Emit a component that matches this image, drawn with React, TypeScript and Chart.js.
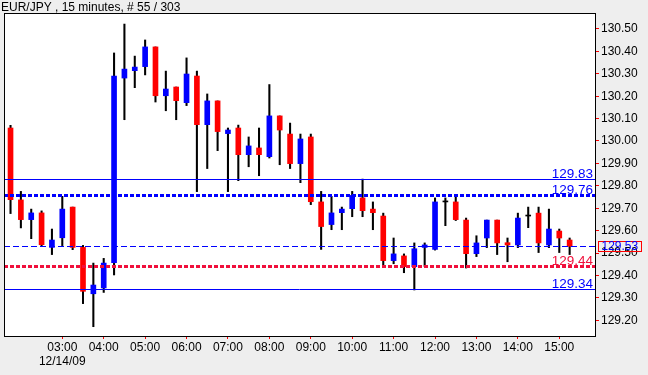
import React, { useEffect, useRef } from 'react';
import { Chart, registerables } from 'chart.js';

Chart.register(...registerables);

const TITLE = 'EUR/JPY , 15 minutes, # 55 / 303';

const opens = [
  130.058, 129.737, 129.649, 129.679, 129.525, 129.568, 129.705, 129.525, 129.318, 129.344,
  129.457, 130.281, 130.314, 130.332, 130.420, 130.202, 130.241, 130.171, 130.290, 130.073,
  130.179, 130.033, 130.058, 129.939, 129.969, 129.930, 130.112, 130.031, 129.899, 130.018,
  129.728, 129.627, 129.680, 129.698, 129.746, 129.696, 129.665, 129.466, 129.487, 129.439,
  129.525, 129.516, 129.728, 129.728, 129.647, 129.497, 129.567, 129.647, 129.546, 129.536,
  129.665, 129.678, 129.536, 129.598, 129.558,
];
const highs = [
  130.070, 129.775, 129.696, 129.688, 129.607, 129.753, 129.705, 129.534, 129.455, 129.476,
  130.393, 130.522, 130.379, 130.451, 130.420, 130.312, 130.241, 130.371, 130.312, 130.210,
  130.179, 130.058, 130.071, 130.018, 130.058, 130.252, 130.112, 130.080, 130.031, 130.031,
  129.775, 129.753, 129.705, 129.775, 129.830, 129.728, 129.678, 129.567, 129.496, 129.545,
  129.545, 129.746, 129.746, 129.753, 129.656, 129.577, 129.647, 129.647, 129.567, 129.678,
  129.705, 129.705, 129.696, 129.607, 129.567,
];
const lows = [
  129.676, 129.612, 129.564, 129.530, 129.493, 129.533, 129.515, 129.274, 129.171, 129.324,
  129.402, 130.095, 130.238, 130.295, 130.174, 130.135, 130.095, 130.158, 129.774, 129.877,
  129.957, 129.774, 129.823, 129.885, 129.845, 129.924, 129.894, 129.877, 129.814, 129.716,
  129.516, 129.604, 129.604, 129.662, 129.662, 129.604, 129.440, 129.452, 129.412, 129.335,
  129.440, 129.513, 129.622, 129.645, 129.433, 129.484, 129.524, 129.493, 129.461, 129.524,
  129.613, 129.502, 129.524, 129.502, 129.493,
];
const closes = [
  129.738, 129.649, 129.679, 129.537, 129.558, 129.696, 129.525, 129.329, 129.357, 129.455,
  130.290, 130.321, 130.330, 130.420, 130.202, 130.232, 130.180, 130.299, 130.073, 130.179,
  130.042, 130.049, 129.939, 129.978, 129.939, 130.112, 130.049, 129.899, 130.009, 129.729,
  129.618, 129.679, 129.696, 129.757, 129.689, 129.680, 129.466, 129.496, 129.439, 129.519,
  129.536, 129.728, 129.728, 129.649, 129.497, 129.545, 129.647, 129.545, 129.536, 129.656,
  129.665, 129.545, 129.607, 129.567, 129.530,
];

const xTickIndex = [5, 9, 13, 17, 21, 25, 29, 33, 37, 41, 45, 49, 53];
const xTickLabels = ['03:00', '04:00', '05:00', '06:00', '07:00', '08:00', '09:00', '10:00', '11:00', '12:00', '13:00', '14:00', '15:00'];
const dateLabel = '12/14/09';
const yTicks = [129.2, 129.3, 129.4, 129.5, 129.6, 129.7, 129.8, 129.9, 130.0, 130.1, 130.2, 130.3, 130.4, 130.5];

const levelValues = [129.83, 129.76, 129.53, 129.44, 129.34];
const levelKinds = ['solid', 'dotted', 'dashed', 'dotted', 'solid'];
const levelColors = ['#0000ff', '#0000ff', '#0000ff', '#f0103c', '#0000ff'];
const levelLabelShown = [true, true, false, true, true];

const X_MIN = -0.63;
const X_MAX = 56.45;
const Y_MIN = 129.1295;
const Y_MAX = 130.5714;

const FONT = "'Liberation Sans', Arial, sans-serif";

const framePlugin = {
  id: 'frame',
  beforeDraw(chart: any) {
    const { ctx, chartArea: a } = chart;
    ctx.save();
    ctx.fillStyle = '#eeeeee';
    ctx.fillRect(0, 0, chart.width, chart.height);
    ctx.fillStyle = '#ffffff';
    ctx.fillRect(a.left, a.top, a.right - a.left, a.bottom - a.top);
    ctx.restore();
  },
  afterDatasetsDraw(chart: any) {
    const { ctx, chartArea: a } = chart;
    const ys = chart.scales.y;
    ctx.save();
    ctx.beginPath();
    ctx.rect(a.left, a.top, a.right - a.left, a.bottom - a.top);
    ctx.clip();
    levelValues.forEach((v, i) => {
      const py = Math.round(ys.getPixelForValue(v)) + 0.5;
      const kind = levelKinds[i];
      ctx.strokeStyle = levelColors[i];
      ctx.lineWidth = kind === 'dotted' ? 3 : 1;
      ctx.setLineDash(kind === 'dotted' ? [4, 2] : kind === 'dashed' ? [6, 3] : []);
      ctx.beginPath();
      ctx.moveTo(a.left, py);
      ctx.lineTo(a.right, py);
      ctx.stroke();
    });
    ctx.restore();
  },
  afterDraw(chart: any) {
    const { ctx, chartArea: a } = chart;
    const ys = chart.scales.y;
    ctx.save();
    ctx.strokeStyle = '#000000';
    ctx.lineWidth = 1;
    ctx.strokeRect(Math.round(a.left) + 0.5, Math.round(a.top) + 0.5, Math.round(a.right - a.left), Math.round(a.bottom - a.top));
    ctx.fillStyle = '#000000';
    ctx.font = `12px ${FONT}`;
    ctx.textAlign = 'left';
    ctx.textBaseline = 'alphabetic';
    ctx.fillText(TITLE, 1, 11);
    ctx.font = `13.5px ${FONT}`;
    ctx.textAlign = 'right';
    levelValues.forEach((v, i) => {
      if (!levelLabelShown[i]) return;
      const py = Math.round(ys.getPixelForValue(v));
      ctx.fillStyle = levelColors[i];
      ctx.fillText(v.toFixed(2), a.right - 2, py - 1);
    });
    const last = closes[closes.length - 1];
    const py = Math.round(ys.getPixelForValue(last));
    ctx.strokeStyle = '#ff0000';
    ctx.strokeRect(Math.round(a.right) + 3.5, py - 4.5, 43, 10);
    ctx.fillStyle = '#0000ff';
    ctx.font = `12px ${FONT}`;
    ctx.textAlign = 'left';
    ctx.textBaseline = 'middle';
    ctx.fillText(last.toFixed(2), Math.round(a.right) + 6.5, py + 1);
    ctx.restore();
  },
};

export default function App() {
  const ref = useRef<HTMLCanvasElement | null>(null);

  useEffect(() => {
    document.body.style.margin = '0';
    const canvas = ref.current;
    if (!canvas) return;

    const bodyColors = opens.map((o, i) =>
      closes[i] > o ? '#0000ff' : closes[i] < o ? '#ff0000' : '#000000'
    );

    const chart = new Chart(canvas, {
      type: 'bar',
      data: {
        datasets: [
          {
            type: 'bar' as const,
            data: opens.map((o, i) => ({ x: i, y: [o, closes[i]] })),
            backgroundColor: bodyColors,
            borderWidth: 0,
            barThickness: 5,
            minBarLength: 1,
            grouped: false,
            order: 1,
          } as any,
          {
            type: 'bar' as const,
            data: lows.map((l, i) => ({ x: i, y: [l, highs[i]] })),
            backgroundColor: '#000000',
            borderWidth: 0,
            barThickness: 1.4,
            grouped: false,
            order: 2,
          } as any,
        ],
      },
      options: {
        responsive: false,
        animation: false,
        layout: { padding: { left: 4, top: 13, right: 0, bottom: 0 } },
        plugins: { legend: { display: false }, tooltip: { enabled: false } },
        scales: {
          x: {
            type: 'linear',
            min: X_MIN,
            max: X_MAX,
            offset: false,
            afterBuildTicks: (s: any) => {
              s.ticks = xTickIndex.map((v) => ({ value: v }));
            },
            afterFit: (s: any) => {
              s.height = 39;
            },
            grid: { display: true, drawOnChartArea: false, drawTicks: true, tickLength: 3, tickColor: '#ff0000', offset: false },
            border: { display: false },
            ticks: {
              color: '#000000',
              font: { family: FONT, size: 12, lineHeight: 1.17 },
              padding: 2,
              maxRotation: 0,
              autoSkip: false,
              callback: (_v: any, idx: number) => (idx === 0 ? [xTickLabels[idx], dateLabel] : xTickLabels[idx]),
            },
          },
          y: {
            type: 'linear',
            position: 'right',
            min: Y_MIN,
            max: Y_MAX,
            afterBuildTicks: (s: any) => {
              s.ticks = yTicks.map((v) => ({ value: v }));
            },
            afterFit: (s: any) => {
              s.width = 53;
            },
            grid: { display: true, drawOnChartArea: false, drawTicks: true, tickLength: 4, tickColor: '#ff0000' },
            border: { display: false },
            ticks: {
              color: '#000000',
              font: { family: FONT, size: 12 },
              padding: 2,
              callback: (v: any) => Number(v).toFixed(2),
            },
          },
        },
      } as any,
      plugins: [framePlugin],
    });

    return () => chart.destroy();
  }, []);

  return (
    <div style={{ width: 648, height: 375, background: '#eeeeee' }}>
      <canvas ref={ref} width={648} height={375} style={{ display: 'block' }} />
    </div>
  );
}
